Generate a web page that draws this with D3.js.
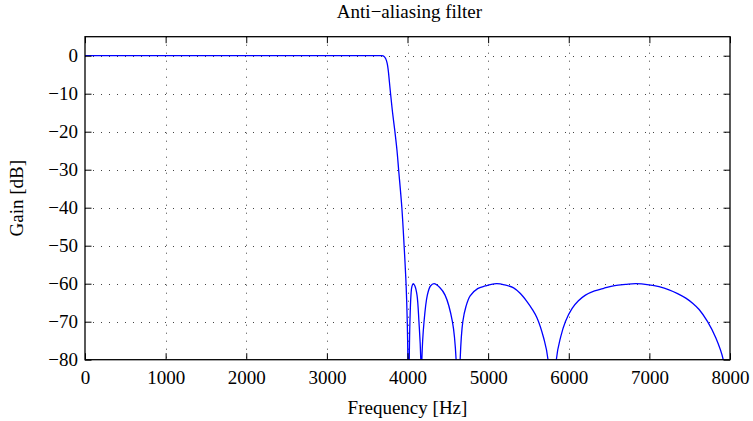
<!DOCTYPE html>
<html>
<head>
<meta charset="utf-8">
<script src="https://cdn.jsdelivr.net/npm/d3@7"></script>
<style>
  html, body { margin: 0; padding: 0; background: #fff; }
  svg { display: block; }
  text { font-family: "Liberation Serif", "Times New Roman", serif; fill: #000; }
</style>
</head>
<body>
<script>
// ---- data ----
const titleText = "Anti\u2212aliasing filter";
const xLabelText = "Frequency [Hz]";
const yLabelText = "Gain [dB]";
const xTicks = [0, 1000, 2000, 3000, 4000, 5000, 6000, 7000, 8000];
const yTicks = [0, -10, -20, -30, -40, -50, -60, -70, -80];
const xDomain = [0, 8000];
const yDomain = [-80, 5];

// frequency samples [Hz]
const freqHz = [
  0, 500, 1000, 1500, 2000, 2500, 3000, 3500, 3680, 3710, 3730, 3748, 3762, 3776, 3790,
  3815, 3844, 3870, 3890, 3930, 3958, 3982, 3997, 4005, 4012,
  4022, 4030, 4043, 4055, 4072, 4092, 4118, 4142, 4165, 4171,
  4178, 4205, 4246, 4285, 4329, 4400, 4466, 4557, 4603, 4628,
  4653, 4686, 4725, 4777, 4870, 4964, 5040, 5109, 5200, 5316, 5400, 5482, 5550, 5607, 5689, 5743, 5795,
  5846, 5900, 5958, 6042, 6120, 6207, 6320, 6435, 6570, 6705, 6830, 6995, 7120, 7244, 7350,
  7452, 7540, 7617, 7722, 7825, 7916, 7960
];
// gain samples [dB] (values at the notches lie below the visible range)
const gainDb = [
  0, 0, 0, 0, 0, 0, 0, 0, 0, -0.2, -0.8, -2, -4, -7, -10,
  -15, -20, -25, -30, -40, -50, -60, -70, -80, -130,
  -80, -70, -63, -60.7, -60, -60.6, -63, -70, -80, -130,
  -80, -70, -63, -60.6, -60, -61, -63, -70, -80, -130,
  -80, -70, -66, -63.2, -61.3, -60.6, -60.15, -60, -60.3, -61.1, -62.6, -64.7, -66.8, -69, -74.3, -80, -130,
  -80, -74, -70, -66.5, -64.5, -63, -61.9, -61.2, -60.5, -60.2, -60, -60.3, -60.8, -61.6, -62.6,
  -63.8, -65.2, -66.8, -70, -74.3, -80, -90
];

// ---- layout ----
const W = 753, H = 421;
const plot = { left: 85, right: 730, top: 36.7, bottom: 359.7 };

const svg = d3.select("body").append("svg")
  .attr("width", W).attr("height", H);

const x = d3.scaleLinear().domain(xDomain).range([plot.left, plot.right]);
const y = d3.scaleLinear().domain(yDomain).range([plot.bottom, plot.top]);

const pw = plot.right - plot.left, ph = plot.bottom - plot.top;

// grid
const grid = svg.append("g").attr("class", "grid")
  .attr("stroke", "#444").attr("stroke-width", 1).attr("stroke-dasharray", "1,7");
grid.selectAll("line.gx").data(xTicks.filter(d => d > xDomain[0] && d < xDomain[1]))
  .join("line").attr("class", "gx")
  .attr("x1", d => Math.round(x(d)) + 0.5).attr("x2", d => Math.round(x(d)) + 0.5)
  .attr("y1", plot.top).attr("y2", plot.bottom);
grid.selectAll("line.gy").data(yTicks.filter(d => d > yDomain[0] && d < yDomain[1]))
  .join("line").attr("class", "gy")
  .attr("y1", d => Math.round(y(d)) + 0.5).attr("y2", d => Math.round(y(d)) + 0.5)
  .attr("x1", plot.left).attr("x2", plot.right);

// clip
svg.append("defs").append("clipPath").attr("id", "clip")
  .append("rect").attr("x", plot.left).attr("y", plot.top).attr("width", pw).attr("height", ph);

// curve
const pts = freqHz.map((f, i) => [f, gainDb[i]]);
const line = d3.line().x(d => x(d[0])).y(d => y(d[1])).curve(d3.curveCatmullRom.alpha(0.5));
svg.append("path").datum(pts)
  .attr("clip-path", "url(#clip)")
  .attr("fill", "none").attr("stroke", "#0000ff").attr("stroke-width", 1.3)
  .attr("stroke-linejoin", "round")
  .attr("d", line);

// axes (ticks inward on all four sides)
const tickLen = 6.5;
const fs = 19;
const axB = d3.axisBottom(x).tickValues(xTicks).tickSizeInner(-tickLen).tickSizeOuter(0).tickPadding(11).tickFormat(d3.format("d"));
const axT = d3.axisTop(x).tickValues(xTicks).tickSizeInner(-tickLen).tickSizeOuter(0).tickFormat("");
const axL = d3.axisLeft(y).tickValues(yTicks).tickSizeInner(-tickLen).tickSizeOuter(0).tickPadding(7)
  .tickFormat(d => d < 0 ? "\u2212" + Math.abs(d) : String(d));
const axR = d3.axisRight(y).tickValues(yTicks).tickSizeInner(-tickLen).tickSizeOuter(0).tickFormat("");

function style(g) {
  g.select(".domain").remove();
  g.selectAll(".tick line").attr("stroke", "#000").attr("stroke-width", 1);
  g.selectAll(".tick text").attr("font-size", fs).attr("font-family", "Liberation Serif");
  g.attr("font-family", null).attr("font-size", null);
}
svg.append("g").attr("transform", `translate(0,${plot.bottom})`).call(axB).call(style);
svg.append("g").attr("transform", `translate(0,${plot.top})`).call(axT).call(style);
svg.append("g").attr("transform", `translate(${plot.left},0)`).call(axL).call(style);
svg.append("g").attr("transform", `translate(${plot.right},0)`).call(axR).call(style);

// box
svg.append("rect").attr("x", plot.left).attr("y", plot.top).attr("width", pw).attr("height", ph)
  .attr("fill", "none").attr("stroke", "#000").attr("stroke-width", 1.3);

// titles
svg.append("text").attr("x", (plot.left + plot.right) / 2 + 2).attr("y", 18)
  .attr("text-anchor", "middle").attr("font-size", fs).text(titleText);
svg.append("text").attr("x", (plot.left + plot.right) / 2).attr("y", 414)
  .attr("text-anchor", "middle").attr("font-size", fs).text(xLabelText);
svg.append("text").attr("transform", `translate(23,${(plot.top + plot.bottom) / 2}) rotate(-90)`)
  .attr("text-anchor", "middle").attr("font-size", fs).text(yLabelText);
</script>
</body>
</html>
